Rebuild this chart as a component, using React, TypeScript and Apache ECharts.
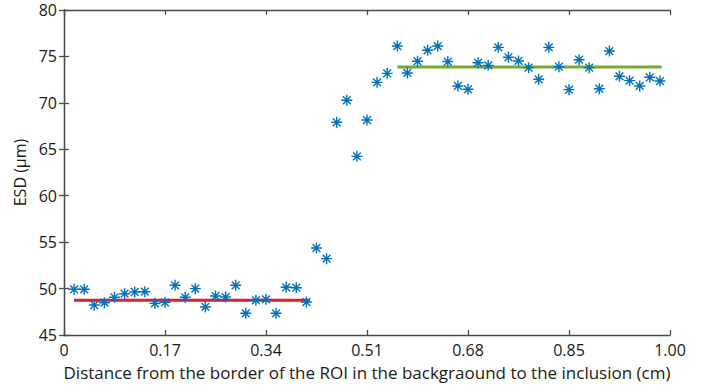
import React, { useEffect, useRef } from "react";
import * as echarts from "echarts";

const distances = [
  0.017, 0.034, 0.051, 0.068, 0.085, 0.102, 0.119, 0.136, 0.153, 0.17,
  0.187, 0.204, 0.221, 0.238, 0.255, 0.272, 0.289, 0.306, 0.323, 0.34,
  0.357, 0.374, 0.391, 0.408, 0.425, 0.442, 0.459, 0.476, 0.493, 0.51,
  0.527, 0.544, 0.561, 0.578, 0.595, 0.612, 0.629, 0.646, 0.663, 0.68,
  0.697, 0.714, 0.731, 0.748, 0.765, 0.782, 0.799, 0.816, 0.833, 0.85,
  0.867, 0.884, 0.901, 0.918, 0.935, 0.952, 0.969, 0.986, 1.003,
];

const esd = [
  49.92, 49.92, 48.23, 48.48, 49.06, 49.45, 49.63, 49.66, 48.41, 48.52,
  50.35, 49.06, 49.99, 48.02, 49.2, 49.09, 50.35, 47.34, 48.74, 48.84,
  47.34, 50.14, 50.09, 48.55, 54.37, 53.22, 67.91, 70.28, 64.24, 68.15,
  72.21, 73.18, 76.12, 73.22, 74.48, 75.66, 76.12, 74.45, 71.82, 71.46,
  74.32, 74.04, 75.98, 74.91, 74.51, 73.79, 72.54, 75.98, 73.89, 71.42,
  74.65, 73.79, 71.52, 75.58, 72.86, 72.39, 71.82, 72.75, 72.35,
];

const backgroundMeanX = [0.017, 0.414];
const backgroundMean = 48.74;
const inclusionMeanX = [0.561, 1.006];
const inclusionMean = 73.86;

const xTicks = [0, 0.17, 0.34, 0.51, 0.68, 0.85, 1.02];
const xTickLabels = ["0", "0.17", "0.34", "0.51", "0.68", "0.85", "1.00"];

const FONT = "Open Sans";
const AXIS_COLOR = "#4a4a4a";

const asterisk =
  "path://M0,-10 L0,10 M-10,0 L10,0 M-7.07,-7.07 L7.07,7.07 M-7.07,7.07 L7.07,-7.07";

export default function App() {
  const ref = useRef<HTMLDivElement>(null);

  useEffect(() => {
    if (!ref.current) return;
    const chart = echarts.init(ref.current, undefined, { renderer: "svg" });

    const fmtX = (v: number) => {
      let best = 0;
      for (let i = 0; i < xTicks.length; i++) {
        if (Math.abs(xTicks[i] - v) < Math.abs(xTicks[best] - v)) best = i;
      }
      return xTickLabels[best];
    };

    const axisLine = { show: true, lineStyle: { color: AXIS_COLOR, width: 1.3 } };
    const axisTick = { show: true, inside: true, length: 5, lineStyle: { color: AXIS_COLOR, width: 1.3 } };

    chart.setOption({
      animation: false,
      backgroundColor: "#ffffff",
      grid: { left: 64, right: 40, top: 10, bottom: 55, containLabel: false },
      xAxis: [
        {
          type: "value",
          position: "bottom",
          min: 0,
          max: 1.02,
          interval: 0.17,
          axisLine,
          axisTick,
          splitLine: { show: false },
          axisLabel: {
            color: "#1a1a1a",
            fontFamily: FONT,
            fontSize: 16,
            margin: 7,
            formatter: fmtX,
          },
          name: "Distance from the border of the ROI in the backgraound to the inclusion (cm)",
          nameLocation: "middle",
          nameGap: 29,
          nameTextStyle: { color: "#1a1a1a", fontFamily: FONT, fontSize: 17 },
        },
        {
          type: "value",
          position: "top",
          min: 0,
          max: 1.02,
          interval: 0.17,
          axisLine,
          axisTick,
          splitLine: { show: false },
          axisLabel: { show: false },
        },
      ],
      yAxis: [
        {
          type: "value",
          position: "left",
          min: 45,
          max: 80,
          interval: 5,
          axisLine,
          axisTick,
          splitLine: { show: false },
          axisLabel: {
            color: "#1a1a1a",
            fontFamily: FONT,
            fontSize: 16,
            margin: 7,
          },
          name: "ESD (μm)",
          nameLocation: "middle",
          nameGap: 33,
          nameRotate: 90,
          nameTextStyle: { color: "#1a1a1a", fontFamily: FONT, fontSize: 16 },
        },
        {
          type: "value",
          position: "right",
          min: 45,
          max: 80,
          interval: 5,
          axisLine,
          axisTick,
          splitLine: { show: false },
          axisLabel: { show: false },
        },
      ],
      series: [
        {
          type: "line",
          data: backgroundMeanX.map((x) => [x, backgroundMean]),
          symbol: "none",
          lineStyle: { color: "#e41e26", width: 3 },
          z: 3,
        },
        {
          type: "line",
          data: inclusionMeanX.map((x) => [x, inclusionMean]),
          symbol: "none",
          lineStyle: { color: "#77ac30", width: 3 },
          z: 3,
        },
        {
          type: "scatter",
          data: distances.map((x, i) => [x, esd[i]]),
          symbol: asterisk,
          symbolSize: 11,
          itemStyle: {
            color: "none",
            borderColor: "#0072bd",
            borderWidth: 1.4,
            opacity: 1,
          },
          z: 4,
        },
      ],
    });

    return () => chart.dispose();
  }, []);

  return (
    <div
      ref={ref}
      style={{ position: "absolute", left: 0, top: 0, width: 710, height: 390 }}
    />
  );
}
